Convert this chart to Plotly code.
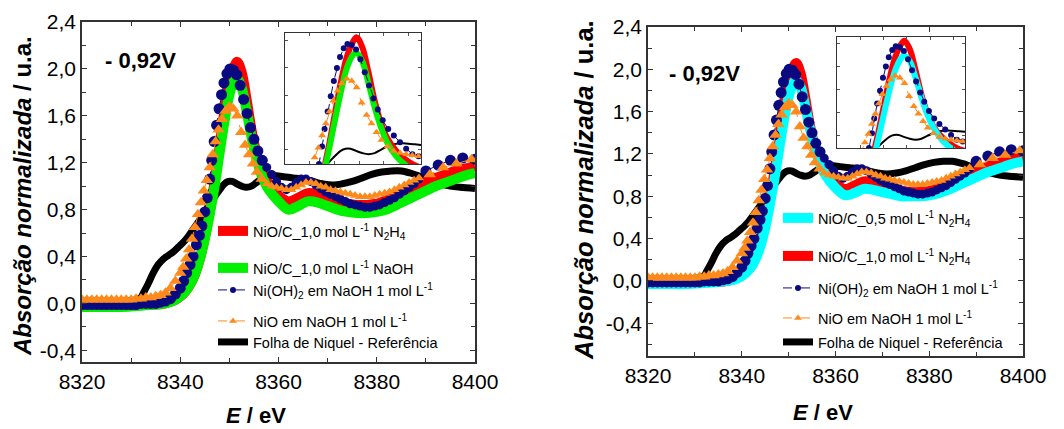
import plotly.graph_objects as go

FONT = "Liberation Sans, Arial, sans-serif"
W, H = 1064, 429

# ---------------- data ----------------
E_red = [8320, 8324, 8328, 8332, 8335, 8337, 8339,
         8340, 8341, 8342, 8343, 8344, 8345, 8346, 8347, 8348, 8349, 8350, 8351,
         8351.6, 8352.5, 8353.5, 8354.5, 8355.5, 8356.5,
         8358, 8360, 8362, 8364, 8366, 8368, 8370, 8372, 8374, 8376, 8378,
         8380, 8382, 8384, 8386, 8388, 8390, 8392, 8394, 8396, 8398, 8400]
V_red = [-0.02, -0.02, -0.01, 0.0, -0.01, 0.0, 0.03,
         0.06, 0.10, 0.16, 0.25, 0.38, 0.56, 0.78, 1.04, 1.34, 1.64, 1.88, 2.02,
         2.06, 1.97, 1.74, 1.48, 1.28, 1.14,
         1.02, 0.92, 0.87, 0.90, 0.94, 0.93, 0.90, 0.87, 0.85, 0.84, 0.84,
         0.85, 0.88, 0.92, 0.96, 1.00, 1.04, 1.07, 1.10, 1.13, 1.15, 1.17]

E_grn = [8320, 8324, 8328, 8332, 8335, 8337, 8339,
         8341, 8342, 8343, 8344, 8345, 8346, 8347, 8348, 8349, 8350, 8351,
         8351.5, 8352.5, 8353.5, 8354.5, 8355.5, 8356.5,
         8358, 8360, 8362, 8364, 8366, 8368, 8370, 8372, 8374, 8376, 8378,
         8380, 8382, 8384, 8386, 8388, 8390, 8392, 8394, 8396, 8398, 8400]
V_grn = [-0.03, -0.03, -0.03, -0.02, -0.01, 0.0, 0.03,
         0.10, 0.16, 0.25, 0.38, 0.55, 0.76, 1.00, 1.28, 1.55, 1.78, 1.90,
         1.92, 1.84, 1.64, 1.42, 1.24, 1.10,
         0.97, 0.87, 0.80, 0.83, 0.87, 0.86, 0.83, 0.80, 0.78, 0.77, 0.77,
         0.78, 0.80, 0.84, 0.88, 0.92, 0.96, 1.00, 1.03, 1.06, 1.09, 1.11]

E_cyn = E_grn
V_cyn = [-0.03, -0.03, -0.03, -0.02, -0.01, 0.0, 0.02,
         0.08, 0.13, 0.21, 0.33, 0.50, 0.72, 0.97, 1.25, 1.52, 1.74, 1.87,
         1.90, 1.84, 1.66, 1.45, 1.27, 1.13,
         0.99, 0.88, 0.81, 0.83, 0.87, 0.86, 0.84, 0.82, 0.80, 0.80, 0.80,
         0.81, 0.83, 0.86, 0.90, 0.94, 0.98, 1.02, 1.05, 1.08, 1.11, 1.13]

E_blu = [8320, 8321, 8322, 8323, 8324, 8325, 8326, 8327, 8328, 8329, 8330,
         8331, 8332, 8333, 8334, 8335, 8336, 8337, 8338, 8339, 8340,
         8340.7, 8341.3, 8342, 8342.6, 8343.3, 8343.9, 8344.4, 8345, 8345.5,
         8346, 8346.4, 8346.9, 8347.4, 8347.9, 8348.4, 8348.9, 8349.5, 8350.1,
         8350.8, 8351.5, 8352.2, 8352.9, 8353.6, 8354.3, 8355, 8355.8, 8356.7,
         8357.6, 8358.6, 8359.6, 8360.6, 8361.6, 8362.6, 8363.6, 8364.6, 8365.6,
         8366.6, 8367.6, 8368.6, 8369.6, 8370.6, 8371.6, 8372.6, 8373.6, 8374.6,
         8375.6, 8376.6, 8377.6, 8378.6, 8379.6, 8380.6, 8381.6, 8382.6, 8383.6,
         8384.6, 8385.6, 8386.6, 8387.6, 8388.6,
         8390, 8392.5, 8395, 8397.5, 8400]
V_blu = [-0.01, -0.01, -0.01, -0.01, -0.01, -0.01, -0.01, -0.01, -0.01, -0.01, -0.01,
         -0.01, 0.0, 0.0, 0.0, 0.0, 0.01, 0.02, 0.04, 0.08, 0.13,
         0.19, 0.26, 0.33, 0.40, 0.50, 0.58, 0.66, 0.78, 0.90,
         1.06, 1.22, 1.38, 1.52, 1.66, 1.78, 1.88, 1.96, 2.00,
         1.99, 1.95, 1.86, 1.74, 1.62, 1.50, 1.40, 1.30, 1.22,
         1.16, 1.10, 1.04, 0.99, 0.97, 0.99, 1.03, 1.06, 1.06,
         1.04, 1.01, 0.98, 0.95, 0.93, 0.91, 0.89, 0.87, 0.85,
         0.84, 0.83, 0.82, 0.82, 0.83, 0.84, 0.86, 0.88, 0.90,
         0.93, 0.96, 0.99, 1.02, 1.06,
         1.13, 1.18, 1.22, 1.24, 1.23]

E_org = [8320, 8321, 8322, 8323, 8324, 8325, 8326, 8327, 8328, 8329, 8330,
         8331, 8332, 8333, 8334, 8335, 8336, 8337, 8338, 8339, 8340,
         8340.6, 8341.2, 8341.8, 8342.4, 8343, 8343.6, 8344.2, 8344.8, 8345.4,
         8346, 8346.6, 8347.2, 8347.8, 8348.5, 8349.2, 8350, 8350.8, 8351.6,
         8352.4, 8353.2, 8354, 8354.8, 8355.6, 8356.6, 8357.6,
         8358.6, 8359.6, 8360.6, 8361.6, 8362.6, 8363.6, 8364.6, 8365.6, 8366.6,
         8367.6, 8368.6, 8369.6, 8370.6, 8371.6, 8372.6, 8373.6, 8374.6, 8375.6,
         8376.6, 8377.6, 8378.6, 8379.6, 8380.6, 8381.6, 8382.6, 8383.6, 8384.6,
         8385.6, 8386.6, 8387.6, 8388.6,
         8390.8, 8393.5, 8396.2, 8399.3]
V_org = [0.03, 0.03, 0.03, 0.03, 0.03, 0.03, 0.03, 0.03, 0.03, 0.03, 0.03,
         0.04, 0.04, 0.05, 0.05, 0.06, 0.07, 0.09, 0.13, 0.19, 0.26,
         0.31, 0.38, 0.46, 0.55, 0.65, 0.76, 0.86, 0.96, 1.05,
         1.16, 1.27, 1.38, 1.48, 1.57, 1.64, 1.68, 1.66, 1.60,
         1.46, 1.35, 1.27, 1.19, 1.12, 1.06, 1.02,
         1.00, 0.99, 0.98, 0.97, 0.97, 0.99, 1.01, 1.03, 1.03,
         1.02, 1.00, 0.99, 0.97, 0.96, 0.95, 0.94, 0.93, 0.92,
         0.91, 0.91, 0.91, 0.92, 0.93, 0.94, 0.95, 0.97, 0.99,
         1.01, 1.03, 1.05, 1.07,
         1.10, 1.16, 1.19, 1.23]

E_blk = [8320, 8324, 8328, 8331, 8332, 8332.5, 8333.5, 8334.5, 8335.5, 8336.6,
         8337.6, 8338.6, 8339.6, 8340.6, 8341.6, 8342.6, 8343.6, 8344.7, 8345.7,
         8346.7, 8347.5, 8348.2, 8349, 8349.8, 8350.6, 8351.5, 8352.5, 8353.5,
         8354.5, 8355.5, 8356.5, 8357.5, 8359, 8361, 8363, 8365, 8367, 8369,
         8371, 8373, 8375, 8377, 8379, 8381, 8383, 8385, 8387, 8389, 8391,
         8393, 8395, 8397, 8400]
V_blk = [0.02, 0.02, 0.02, 0.03, 0.05, 0.09, 0.17, 0.26, 0.33, 0.38,
         0.41, 0.44, 0.48, 0.52, 0.57, 0.63, 0.69, 0.76, 0.83,
         0.89, 0.94, 0.98, 1.02, 1.04, 1.04, 1.02, 1.00, 0.99,
         1.00, 1.03, 1.06, 1.08, 1.09, 1.08, 1.07, 1.06, 1.04, 1.02,
         1.01, 1.02, 1.04, 1.07, 1.10, 1.12, 1.13, 1.13, 1.11, 1.08, 1.05,
         1.02, 1.00, 0.99, 0.98]

Y_TICKS = [-0.4, 0.0, 0.4, 0.8, 1.2, 1.6, 2.0, 2.4]
Y_TICKTEXT = ["-0,4", "0,0", "0,4", "0,8", "1,2", "1,6", "2,0", "2,4"]
X_TICKS = [8320, 8340, 8360, 8380, 8400]

NAME_RED = "NiO/C_1,0 mol L<sup>-1</sup> N<sub>2</sub>H<sub>4</sub>"
NAME_GRN = "NiO/C_1,0 mol L<sup>-1</sup> NaOH"
NAME_CYN = "NiO/C_0,5 mol L<sup>-1</sup> N<sub>2</sub>H<sub>4</sub>"
NAME_BLU = "Ni(OH)<sub>2</sub> em NaOH 1 mol L<sup>-1</sup>"
NAME_ORG = "NiO em NaOH 1 mol L<sup>-1</sup>"
NAME_BLK = "Folha de Niquel - Referência"

C_RED, C_GRN, C_CYN = "#ff0000", "#00f000", "#00ffff"
C_BLU, C_ORG, C_BLK = "#0a0a80", "#ff8a1c", "#000000"

# ---------------- figure ----------------
fig = go.Figure()


def big_small(E):
    return [11 if (e < 8357 or e > 8389.5) else 9 for e in E]


def add_panel(xa, ya, xi, yi, second, legmap):
    sname, sE, sV, scol = second
    # main plot
    fig.add_trace(go.Scatter(x=E_blk, y=V_blk, mode="lines", name=NAME_BLK,
                             line=dict(color=C_BLK, width=7, shape="spline"),
                             xaxis=xa, yaxis=ya, legend=legmap["blk"]))
    fig.add_trace(go.Scatter(x=E_red, y=V_red, mode="lines", name=NAME_RED,
                             line=dict(color=C_RED, width=10, shape="spline"),
                             xaxis=xa, yaxis=ya, legend=legmap["red"]))
    fig.add_trace(go.Scatter(x=sE, y=sV, mode="lines", name=sname,
                             line=dict(color=scol, width=10, shape="spline"),
                             xaxis=xa, yaxis=ya, legend=legmap["sec"]))
    fig.add_trace(go.Scatter(x=E_blu, y=V_blu, mode="lines+markers", name=NAME_BLU,
                             line=dict(color=C_BLU, width=1, dash="dash"),
                             marker=dict(symbol="circle", size=big_small(E_blu), color=C_BLU,
                                         opacity=1, line=dict(width=0)),
                             xaxis=xa, yaxis=ya, showlegend=False))
    fig.add_trace(go.Scatter(x=E_org, y=V_org, mode="lines+markers", name=NAME_ORG,
                             line=dict(color=C_ORG, width=1, dash="dash"),
                             marker=dict(symbol="triangle-up", size=big_small(E_org), color=C_ORG,
                                         opacity=1, line=dict(width=0)),
                             xaxis=xa, yaxis=ya, showlegend=False))
    # inset
    fig.add_trace(go.Scatter(x=E_blk, y=V_blk, mode="lines", line=dict(color=C_BLK, width=2, shape="spline"),
                             xaxis=xi, yaxis=yi, showlegend=False))
    fig.add_trace(go.Scatter(x=E_red, y=V_red, mode="lines", line=dict(color=C_RED, width=6, shape="spline"),
                             xaxis=xi, yaxis=yi, showlegend=False))
    fig.add_trace(go.Scatter(x=sE, y=sV, mode="lines", line=dict(color=scol, width=6, shape="spline"),
                             xaxis=xi, yaxis=yi, showlegend=False))
    fig.add_trace(go.Scatter(x=E_blu, y=V_blu, mode="lines+markers", name=NAME_BLU,
                             line=dict(color=C_BLU, width=1, dash="dash"),
                             marker=dict(symbol="circle", size=6, color=C_BLU, opacity=1,
                                         line=dict(width=0)),
                             xaxis=xi, yaxis=yi, legend=legmap["blu"]))
    fig.add_trace(go.Scatter(x=E_org, y=V_org, mode="lines+markers", name=NAME_ORG,
                             line=dict(color=C_ORG, width=1, dash="dash"),
                             marker=dict(symbol="triangle-up", size=7, color=C_ORG, opacity=1,
                                         line=dict(width=0)),
                             xaxis=xi, yaxis=yi, legend=legmap["org"]))


left_leg = dict(red="legend", sec="legend2", blu="legend3", org="legend4", blk="legend5")
right_leg = dict(sec="legend6", red="legend7", blu="legend8", org="legend9", blk="legend10")

add_panel("x", "y", "x3", "y3", (NAME_GRN, E_grn, V_grn, C_GRN), left_leg)
add_panel("x2", "y2", "x4", "y4", (NAME_CYN, E_cyn, V_cyn, C_CYN), right_leg)


def px(xp):
    return xp / W


def py(yp):
    return 1 - yp / H


axis_common = dict(showline=True, linecolor="#333333", linewidth=1.5, mirror="allticks",
                   ticks="inside", ticklen=5, tickwidth=1.2, tickcolor="#333333",
                   showgrid=False, zeroline=False, automargin=False,
                   tickfont=dict(family=FONT, size=21, color="#000000"))

layout = dict(
    template="none",
    width=W, height=H, margin=dict(l=0, r=0, t=0, b=0, pad=0, autoexpand=False),
    paper_bgcolor="white", plot_bgcolor="white",
    font=dict(family=FONT, color="#000000"),
)

for xa, ya, xd, yd, yr in [("xaxis", "yaxis", [px(82), px(475)], [py(362), py(22)], [-0.5, 2.4]),
                           ("xaxis2", "yaxis2", [px(648), px(1023)], [py(356), py(27)], [-0.71, 2.4])]:
    anchor_y = "y" if ya == "yaxis" else "y2"
    anchor_x = "x" if xa == "xaxis" else "x2"
    layout[xa] = dict(axis_common, domain=xd, anchor=anchor_y, range=[8320, 8400],
                      tickmode="array", tickvals=X_TICKS,
                      minor=dict(dtick=10, tick0=8330, ticks="inside", ticklen=4,
                                 tickcolor="#333333", showgrid=False))
    layout[ya] = dict(axis_common, domain=yd, anchor=anchor_x, range=yr,
                      tickmode="array", tickvals=Y_TICKS, ticktext=Y_TICKTEXT,
                      minor=dict(dtick=0.2, tick0=0.0, ticks="inside", ticklen=4,
                                 tickcolor="#333333", showgrid=False))

inset_common = dict(showline=True, linecolor="#333333", linewidth=1, mirror="allticks",
                    ticks="inside", ticklen=3, tickwidth=1, tickcolor="#555555",
                    showgrid=False, zeroline=False, showticklabels=False, automargin=False)
layout["xaxis3"] = dict(inset_common, domain=[px(285), px(421)], anchor="y3",
                        range=[8340, 8362], dtick=4, tick0=8340)
layout["yaxis3"] = dict(inset_common, domain=[py(164), py(33)], anchor="x3",
                        range=[0.9, 2.1], dtick=0.25, tick0=1.03)
layout["xaxis4"] = dict(inset_common, domain=[px(837), px(965)], anchor="y4",
                        range=[8340, 8362], dtick=4, tick0=8340)
layout["yaxis4"] = dict(inset_common, domain=[py(148), py(37)], anchor="x4",
                        range=[0.9, 2.1], dtick=0.25, tick0=1.03)

leg_pos = {
    "legend": (213, 231), "legend2": (213, 268), "legend3": (213, 290),
    "legend4": (213, 321), "legend5": (213, 342),
    "legend6": (778, 218), "legend7": (778, 256), "legend8": (778, 288),
    "legend9": (778, 318), "legend10": (778, 342),
}
for key, (lx, ly) in leg_pos.items():
    layout[key] = dict(x=px(lx), y=py(ly), xanchor="left", yanchor="middle",
                       bgcolor="rgba(0,0,0,0)", borderwidth=0,
                       font=dict(family=FONT, size=14.5, color="#000000"))

fig.update_layout(**layout)

ann = []
for (cx, cy, fs) in [(22, 196, 24), (584, 190, 25.5)]:
    ann.append(dict(text="<b><i>Absorção normalizada</i> / u.a.</b>", textangle=-90,
                    x=px(cx), y=py(cy), xref="paper", yref="paper",
                    xanchor="center", yanchor="middle", showarrow=False,
                    font=dict(family=FONT, size=fs, color="#000000")))
for (cx, cy) in [(256, 415), (823, 412)]:
    ann.append(dict(text="<b><i>E</i> / eV</b>", x=px(cx), y=py(cy),
                    xref="paper", yref="paper", xanchor="center", yanchor="middle",
                    showarrow=False, font=dict(family=FONT, size=22, color="#000000")))
for (cx, cy) in [(140, 61), (704, 74)]:
    ann.append(dict(text="<b>- 0,92V</b>", x=px(cx), y=py(cy),
                    xref="paper", yref="paper", xanchor="center", yanchor="middle",
                    showarrow=False, font=dict(family=FONT, size=22, color="#000000")))
fig.update_layout(annotations=ann)

fig.write_html("out.html")
